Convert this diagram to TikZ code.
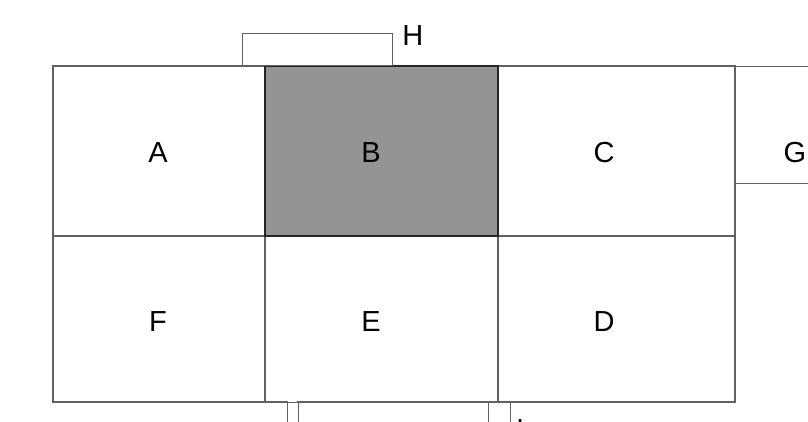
\documentclass[tikz,border=0pt]{standalone}
\usepackage{fontspec}
\setmainfont{Liberation Sans}
\begin{document}
\begin{tikzpicture}[x=1pt,y=-1pt,
  cell/.style={draw=black!62,line width=1.2pt,rectangle,inner sep=0pt,
    font=\fontsize{29}{34}\selectfont},
  lbl/.style={inner sep=0pt,font=\fontsize{29}{34}\selectfont}]
\useasboundingbox (0,0) rectangle (808,421);
\fill[white] (0,0) rectangle (808,421);
% top row
\node[cell,minimum width=212pt,minimum height=170pt] (A) at (159,151) {};
\node[lbl] at (158,153) {A};
\node[cell,minimum width=237pt,minimum height=170pt] (C) at (616.5,151) {};
\node[lbl] at (604,153) {C};
% bottom row
\node[cell,minimum width=212pt,minimum height=166pt] (F) at (159,319) {};
\node[lbl] at (158,322) {F};
\node[cell,minimum width=233pt,minimum height=166pt] (E) at (381.5,319) {};
\node[lbl] at (371,322) {E};
\node[cell,minimum width=237pt,minimum height=166pt] (D) at (616.5,319) {};
\node[lbl] at (604,322) {D};
% B shaded
\node[cell,draw=black!85,fill=black!42,minimum width=233pt,minimum height=170pt] (B) at (381.5,151) {};
\node[lbl] at (371,153) {B};
% G box (cut off at right)
\node[cell,minimum width=100pt,minimum height=117pt,anchor=north west] (G) at (735,66) {};
\node[lbl] (Gl) at (795,153) {G};
% H bracket
\node[cell,minimum width=150pt,minimum height=32pt,anchor=south west] (H) at (242,66) {};
\node[lbl,anchor=west] (Hl) at (H.north east) [yshift=-3pt,xshift=9pt] {H};
% gap in bottom line
\draw[white,line width=1.6pt] (288,402) -- (297.4,402);
% bottom boxes (cut off)
\node[cell,minimum width=190pt,minimum height=60pt,anchor=north west] (I0) at (298,402) {};
\node[cell,minimum width=223pt,minimum height=40pt,anchor=north west] (I) at (287,402) {};
\node[lbl,anchor=north west] (Il) at (516,419) {I};
\end{tikzpicture}
\end{document}
